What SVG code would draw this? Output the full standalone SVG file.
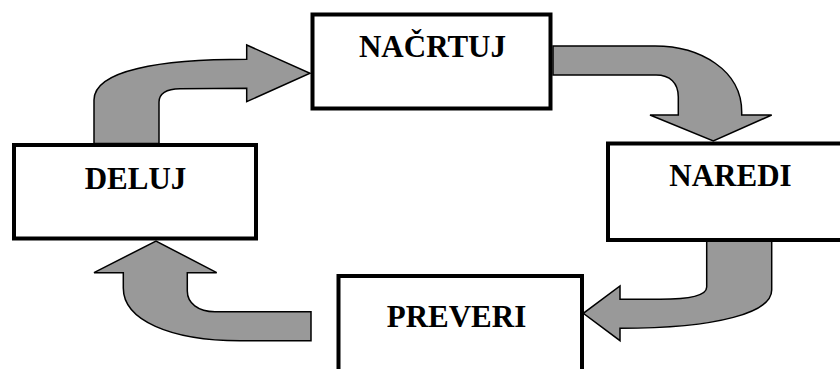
<svg xmlns="http://www.w3.org/2000/svg" width="840" height="369" viewBox="0 0 840 369">
<style>
.arrow{fill:#999999;stroke:#000000;stroke-width:1.5;stroke-linejoin:miter}
.box{fill:#ffffff;stroke:#000000;stroke-width:4}
.label{font-family:"Liberation Serif","Times New Roman",serif;font-weight:bold;font-size:31px;fill:#000000;text-anchor:middle}
</style>
<rect width="840" height="369" fill="#ffffff"/>
<g id="connectors">
<path class="arrow" d="M94,143.5 L94,100 C94,70 160,59.3 246.7,59.3 L246.7,45 L310,73.3 L246.7,101.7 L246.7,88.3 L180,88.7 C166,88.7 159,94 159,102 L159,143.5 Z"/>
<path class="arrow" d="M553,46 L655,46 C700,46 741.7,70 741.7,112 L741.7,115 L771.7,115 L713.3,141 L650,115 L678.3,115 L678.3,97 C678.3,83 670,75 656,75 L553,75 Z"/>
<path class="arrow" d="M706.7,241 L706.7,287 C706.7,295 690,299.3 660,299.3 L620,299.3 L620,286 L583.3,313.3 L620,340.7 L620,328.3 C720,328.3 771.7,312 771.7,290 L771.7,241 Z"/>
<path class="arrow" d="M311,311.7 L215,311.7 C198,311.7 187.3,303 187.3,291 L187.3,272.7 L216.7,272.7 L156,241 L94,272.7 L123.3,272.7 L123.3,288 C123.3,320 170,340.7 240,340.7 L311,340.7 Z"/>
</g>
<g id="nacrtuj">
<rect class="box" x="312.5" y="14.5" width="238" height="94"/>
<text class="label" x="432.5" y="57">NAČRTUJ</text>
</g>
<g id="naredi">
<rect class="box" x="608" y="143.5" width="245" height="96.5"/>
<text class="label" x="730.5" y="186">NAREDI</text>
</g>
<g id="preveri">
<rect class="box" x="338.5" y="276" width="243.5" height="110"/>
<text class="label" x="456.5" y="327">PREVERI</text>
</g>
<g id="deluj">
<rect class="box" x="14" y="145" width="242" height="93.5"/>
<text class="label" x="135.5" y="189">DELUJ</text>
</g>
</svg>
